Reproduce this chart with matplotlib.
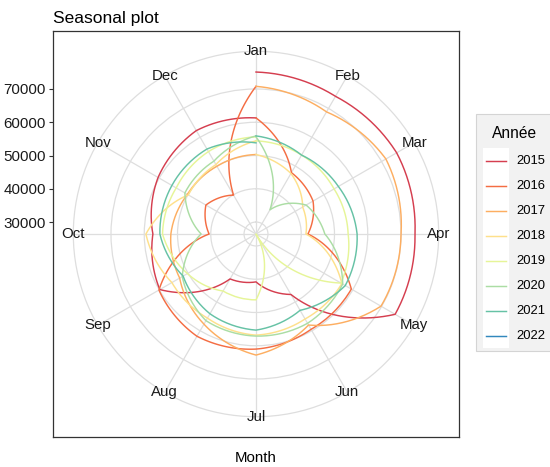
import numpy as np
import matplotlib.pyplot as plt
from matplotlib.patches import Rectangle

plt.rcParams['font.family'] = ['Liberation Sans', 'DejaVu Sans']

months = ['Jan', 'Feb', 'Mar', 'Apr', 'May', 'Jun', 'Jul', 'Aug', 'Sep', 'Oct', 'Nov', 'Dec']
years = [2015, 2016, 2017, 2018, 2019, 2020, 2021, 2022]
colors = ['#D53E4F', '#F46D43', '#FDAE61', '#FEE08B', '#E6F598', '#ABDDA4', '#66C2A5', '#3288BD']

# monthly values per year
v2015 = [75100, 74200, 75230, 74200, 74700, 47400, 40800, 42000, 59800, 57400, 60400, 62300]
v2016 = [61300, 47700, 46200, 42000, 59500, 59500, 61000, 61900, 60100, 40500, 43800, 39900]
v2017 = [70800, 68800, 71500, 70000, 69800, 58000, 62800, 57700, 52900, 52000, 50200, 49900]
v2018 = [50300, 47400, 42600, 41400, 56200, 55900, 56800, 55600, 55600, 59500, 49900, 50500]
v2019 = [54400, 53800, 53500, 54100, 55900, 26400, 46200, 46200, 50200, 54500, 54100, 55000]
v2020 = [55600, 34800, 43800, 47100, 56500, 57400, 57100, 56500, 52000, 42900, 51100, 51700]
v2021 = [55900, 53800, 55000, 56800, 57400, 52900, 55300, 54100, 51700, 55300, 55600, 55900]
v2022 = [53800]
series = [v2015, v2016, v2017, v2018, v2019, v2020, v2021, v2022]

y_breaks = [30000, 40000, 50000, 60000, 70000]

allv = np.concatenate([np.array(s, float) for s in series])
dmin, dmax = allv.min(), allv.max()

W, H = 550, 467
fig = plt.figure(figsize=(W / 100, H / 100), dpi=100)

# square panel with border, like a ggplot coord_polar panel
pl, pt, ps = 53, 31, 406
panel = fig.add_axes([pl / W, (H - pt - ps) / H, ps / W, ps / H])
panel.set_xlim(-0.5, 0.5)
panel.set_ylim(-0.5, 0.5)
panel.set_xticks([])
ypos = [0.4 * (b - dmin) / (dmax - dmin) for b in y_breaks]
panel.set_yticks(ypos)
panel.set_yticklabels([str(b) for b in y_breaks])
panel.tick_params(axis='y', length=3, width=0.8, color='#333333',
                  labelsize=10.9, labelcolor='#1a1a1a', pad=2)
for s in panel.spines.values():
    s.set_color('#333333')
    s.set_linewidth(0.9)

# polar axes inscribed at 0.45 of panel size
cx, cy, R = pl + ps / 2, pt + ps / 2, 0.45 * ps
pax = fig.add_axes([(cx - R) / W, (H - cy - R) / H, 2 * R / W, 2 * R / H],
                   projection='polar')
pax.set_facecolor('none')
pax.set_theta_zero_location('N')
pax.set_theta_direction(-1)
rtop = dmin + (dmax - dmin) * 0.45 / 0.4
pax.set_ylim(dmin, rtop)
mtheta = np.arange(12) / 12 * 2 * np.pi
pax.set_xticks(mtheta)
pax.set_xticklabels([])
pax.set_yticks(y_breaks)
pax.set_yticklabels([])
pax.grid(True, color='#DEDEDE', linewidth=0.9)
pax.spines['polar'].set_color('#DEDEDE')
pax.spines['polar'].set_linewidth(0.9)
for th, m in zip(mtheta, months):
    pax.text(th, rtop, m, ha='center', va='center', fontsize=10.8,
             color='#1a1a1a', clip_on=False)

# one line per year, closed onto the next January
for i, (yr, vals, col) in enumerate(zip(years, series, colors)):
    v = list(vals)
    if i + 1 < len(series):
        v = v + [series[i + 1][0]]
    x = np.arange(1, len(v) + 1)
    th = (x - 1) / 12 * 2 * np.pi
    ln, = pax.plot(th, v, color=col, linewidth=1.05)
    ln.get_path()._interpolation_steps = 40

fig.text(pl / W, 1 - 18 / H, 'Seasonal plot', ha='left', va='center', fontsize=12.5)
fig.text(cx / W, 1 - 458 / H, 'Month', ha='center', va='center', fontsize=10.8)

# legend
lax = fig.add_axes([470 / W, (H - 360) / H, 90 / W, 260 / H])
lax.set_xlim(470, 560)
lax.set_ylim(360, 100)
lax.axis('off')
lax.add_patch(Rectangle((475.5, 113.5), 100, 237, facecolor='#F2F2F2',
                        edgecolor='#D4D4D4', linewidth=0.8, clip_on=False))
lax.text(491.5, 133, 'Année', ha='left', va='center', fontsize=11.2)
lax.add_patch(Rectangle((483, 147.5), 26, 200, facecolor='white', edgecolor='none'))
for i, (yr, col) in enumerate(zip(years, colors)):
    yc = 160.5 + 25.1 * i
    lax.plot([486, 506], [yc, yc], color=col, linewidth=1.05)
    lax.text(516, yc, str(yr), ha='left', va='center', fontsize=9.4)

fig.savefig('out.png', dpi=100)
